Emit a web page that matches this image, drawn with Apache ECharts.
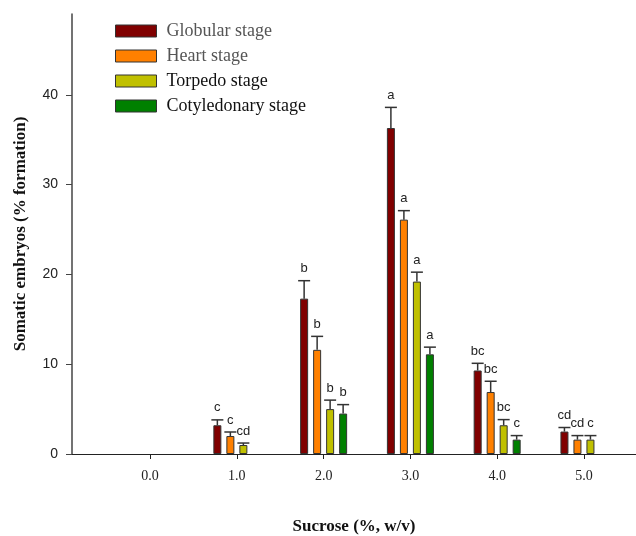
<!DOCTYPE html>
<html>
<head>
<meta charset="utf-8">
<script src="https://cdn.jsdelivr.net/npm/echarts@6/dist/echarts.min.js"></script>
<style>html,body{margin:0;padding:0;background:#fff}#c{width:636px;height:536px}</style>
</head>
<body>
<div id="c"></div>
<script>
// ---- data ----
var sucrose = [0, 1, 2, 3, 4, 5];
var stageNames = ['Globular stage', 'Heart stage', 'Torpedo stage', 'Cotyledonary stage'];
var globular = [0, 3.2, 17.3, 36.3, 9.3, 2.5];
var heart = [0, 2.0, 11.6, 26.1, 6.9, 1.6];
var torpedo = [0, 1.0, 5.0, 19.2, 3.2, 1.6];
var cotyledonary = [0, 0, 4.5, 11.1, 1.6, 0];
var globularErr = [0, 0.6, 2.0, 2.3, 0.8, 0.45];
var heartErr = [0, 0.45, 1.5, 1.0, 1.2, 0.45];
var torpedoErr = [0, 0.22, 1.0, 1.05, 0.63, 0.45];
var cotyledonaryErr = [0, 0, 1.0, 0.8, 0.45, 0];
var globularLetters = ['', 'c', 'b', 'a', 'bc', 'cd'];
var heartLetters = ['', 'c', 'b', 'a', 'bc', 'cd'];
var torpedoLetters = ['', 'cd', 'b', 'a', 'bc', 'c'];
var cotyledonaryLetters = ['', '', 'b', 'a', 'c', ''];
var xTickValues = [0, 1, 2, 3, 4, 5];

// ---- styles ----
var colors = ['#800000', '#FF8000', '#C0C000', '#008000'];
var legendTextColors = ['#555', '#555', '#111', '#111'];
var BAR_W = 8, BAR_STEP = 13;

var means = [globular, heart, torpedo, cotyledonary];
var errs = [globularErr, heartErr, torpedoErr, cotyledonaryErr];
var letters = [globularLetters, heartLetters, torpedoLetters, cotyledonaryLetters];

var series = [];
stageNames.forEach(function (name, i) {
  series.push({
    name: name,
    type: 'bar',
    barWidth: BAR_W,
    barGap: ((BAR_STEP - BAR_W) / BAR_W * 100) + '%',
    itemStyle: { color: colors[i], borderColor: '#333', borderWidth: 1 },
    data: sucrose.map(function (x, k) { return [x, means[i][k] === 0 ? '-' : means[i][k]]; }),
    z: 2
  });
});
stageNames.forEach(function (name, i) {
  series.push({
    type: 'custom',
    name: name + ' err',
    z: 3,
    silent: true,
    data: sucrose.map(function (x, k) { return [x, means[i][k], errs[i][k], letters[i][k]]; }),
    encode: { x: 0, y: [1] },
    renderItem: function (params, api) {
      var m = api.value(1);
      if (!m) return null;
      var e = api.value(2);
      var lab = letters[i][params.dataIndex];
      var base = api.coord([api.value(0), m]);
      var top = api.coord([api.value(0), m + e]);
      var cx = base[0] + (i - 1.5) * BAR_STEP;
      var st = { stroke: '#333', lineWidth: 1.5 };
      return {
        type: 'group',
        children: [
          { type: 'line', shape: { x1: cx, y1: base[1], x2: cx, y2: top[1] }, style: st },
          { type: 'line', shape: { x1: cx - 6, y1: top[1], x2: cx + 6, y2: top[1] }, style: st },
          { type: 'text', x: cx, y: top[1] - 12,
            style: { text: lab, fill: '#222', font: '13px "Liberation Sans", Arial, sans-serif',
                     textAlign: 'center', textVerticalAlign: 'middle' } }
        ]
      };
    }
  });
});

var chart = echarts.init(document.getElementById('c'), null, { renderer: 'canvas' });
chart.setOption({
  animation: false,
  backgroundColor: '#fff',
  grid: { left: 72, right: 0, top: 14, bottom: 82, containLabel: false, outerBoundsMode: 'none' },
  legend: {
    orient: 'vertical',
    left: 115,
    top: 22,
    padding: 0,
    icon: 'rect',
    itemWidth: 41,
    itemHeight: 12,
    itemGap: 7,
    selectedMode: false,
    data: stageNames.map(function (n, i) {
      return { name: n, itemStyle: { color: colors[i], borderColor: '#333', borderWidth: 1 },
               textStyle: { color: legendTextColors[i] } };
    }),
    textStyle: { fontFamily: '"Liberation Serif", "Times New Roman", serif', fontSize: 18, lineHeight: 16, padding: [0, 0, 0, 5] }
  },
  xAxis: {
    type: 'value',
    min: -0.9,
    max: 5.6,
    name: 'Sucrose (%, w/v)',
    nameLocation: 'middle',
    nameGap: 64,
    nameTextStyle: { fontFamily: '"Liberation Serif", "Times New Roman", serif', fontSize: 17, fontWeight: 'bold', color: '#111' },
    splitLine: { show: false },
    axisLine: { onZero: false, lineStyle: { color: '#222', width: 1 } },
    axisTick: { show: true, length: 5, customValues: xTickValues, lineStyle: { color: '#222' } },
    axisLabel: {
      customValues: xTickValues,
      formatter: function (v) { return Number(v).toFixed(1); },
      margin: 15,
      fontFamily: '"Liberation Serif", "Times New Roman", serif', fontSize: 14, color: '#222'
    }
  },
  yAxis: {
    type: 'value',
    min: 0,
    max: 49,
    interval: 10,
    name: 'Somatic embryos (% formation)',
    nameLocation: 'middle',
    nameGap: 43,
    nameTextStyle: { fontFamily: '"Liberation Serif", "Times New Roman", serif', fontSize: 17, fontWeight: 'bold', color: '#111' },
    splitLine: { show: false },
    axisLine: { show: true, onZero: false, lineStyle: { color: '#444', width: 1.5 } },
    axisTick: { show: true, length: 6, lineStyle: { color: '#444' } },
    axisLabel: { margin: 14, fontFamily: '"Liberation Sans", Arial, sans-serif', fontSize: 14, color: '#222', showMaxLabel: false }
  },
  series: series
});
</script>
</body>
</html>
